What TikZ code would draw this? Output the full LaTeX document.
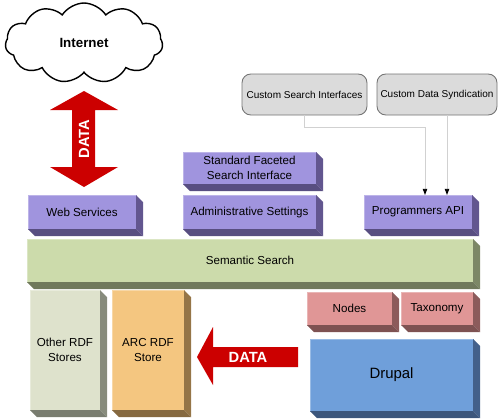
\documentclass[tikz,border=0pt]{standalone}
\usepackage{fontspec}
\setmainfont{Liberation Sans}
\usetikzlibrary{shapes.symbols,arrows.meta,calc}
\definecolor{purF}{HTML}{A094DE}
\definecolor{purD}{HTML}{62568F}
\definecolor{grnF}{HTML}{CCDBAB}
\definecolor{grnD}{HTML}{7C8766}
\definecolor{othF}{HTML}{DEE2CC}
\definecolor{othD}{HTML}{878B7C}
\definecolor{arcF}{HTML}{F4C680}
\definecolor{arcD}{HTML}{957547}
\definecolor{pnkF}{HTML}{E09696}
\definecolor{pnkD}{HTML}{8C5B5B}
\definecolor{bluF}{HTML}{6F9FDA}
\definecolor{bluD}{HTML}{43608A}
\definecolor{datared}{HTML}{CC0000}
\newcommand\depthfaces[2]{%
  \fill[#2] (#1.north east) -- ++(7,7) -- ($(#1.south east)+(7,7)$) -- (#1.south east) -- cycle;
  \fill[#2!90!black] (#1.south west) -- ++(7,7) -- ($(#1.south east)+(7,7)$) -- (#1.south east) -- cycle;
}
\begin{document}
\begin{tikzpicture}[x=0.02cm,y=-0.02cm,
  wh/.style 2 args={minimum width=#1*0.02cm, minimum height=#2*0.02cm},
  base/.style={inner sep=0pt, outer sep=0pt, anchor=north west, align=center,
    font=\fontsize{6.6}{8.2}\selectfont},
  face/.style={base, fill=#1, draw=#1!70!white, line width=0.4pt},
  gbox/.style={base, fill=black!14, draw=black!55, line width=0.5pt, rounded corners=5pt,
    font=\fontsize{5.7}{7}\selectfont},
  conn/.style={draw=black!18, line width=0.5pt, -{Triangle[length=3.5pt,width=2.5pt,color=black]}},
  arrowtext/.style={text=white, font=\fontsize{8.4}{10}\selectfont\bfseries, inner sep=0pt}
]
\useasboundingbox (0,0) rectangle (500,419);

% cloud
\node[cloud, draw, line width=0.8pt, cloud puffs=11, cloud puff arc=115, aspect=2,
  minimum width=3.15cm, minimum height=1.6cm, inner sep=0pt,
  font=\fontsize{7.6}{9}\selectfont\bfseries] (internet) at (84,43) {Internet};

% vertical red double arrow
\fill[datared] (84,91) -- (118,110) -- (95,110) -- (95,167) -- (118,167) -- (84,187)
  -- (50,167) -- (72,167) -- (72,110) -- (50,110) -- cycle;
\node[arrowtext, rotate=90] (data1) at (84,139) {DATA};

% gray boxes
\node[gbox, wh={125}{41}] (csi) at (242,74) {Custom Search Interfaces};
\node[gbox, wh={120}{41}] (cds) at (377,74) {Custom Data Syndication};

% purple boxes
\node[face=purF, wh={133}{32}] (sfsi) at (183,152) {Standard Faceted\\Search Interface};
\node[face=purF, wh={108}{34}] (ws) at (28,195) {Web Services};
\node[face=purF, wh={133}{34}] (adm) at (183,195) {Administrative Settings};
\node[face=purF, wh={108}{34}] (api) at (364,195) {Programmers API};
\depthfaces{sfsi}{purD}
\depthfaces{ws}{purD}
\depthfaces{adm}{purD}
\depthfaces{api}{purD}

% semantic search
\node[face=grnF, wh={446}{43}] (sem) at (27,239) {Semantic Search};
\depthfaces{sem}{grnD}

% stores
\node[face=othF, wh={70}{120}] (other) at (30,290) {Other RDF\\Stores};
\depthfaces{other}{othD}
\node[face=arcF, wh={72}{120}] (arc) at (112,290) {ARC RDF\\Store};
\depthfaces{arc}{arcD}

% drupal side
\node[face=pnkF, wh={85}{33}] (nodes) at (307,292) {Nodes};
\depthfaces{nodes}{pnkD}
\node[face=pnkF, wh={72}{33}] (tax) at (401,292) {Taxonomy};
\depthfaces{tax}{pnkD}
\node[face=bluF, wh={163}{72}, font=\fontsize{8.5}{10}\selectfont] (drupal) at (310,339) {Drupal};
\depthfaces{drupal}{bluD}

% horizontal red arrow
\fill[datared] (197,357) -- (213,327) -- (213,347) -- (298,347) -- (298,367) -- (213,367)
  -- (213,385) -- cycle;
\node[arrowtext] (data2) at (248,357) {DATA};

% connectors
\coordinate (j1) at (425,127);
\draw[conn] (csi.south) |- (j1) -- (j1 |- api.north);
\draw[conn] ([xshift=0.2cm]cds.south) -- ([xshift=0.2cm]cds.south |- api.north);
\end{tikzpicture}
\end{document}
